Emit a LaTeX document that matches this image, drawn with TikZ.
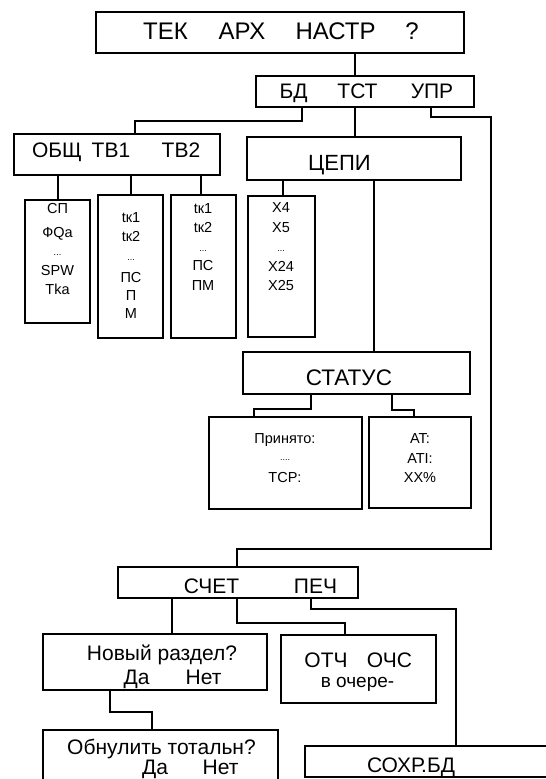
\documentclass[tikz,border=0pt]{standalone}
\usepackage{fontspec}
\setmainfont{Liberation Sans}
\usetikzlibrary{fit}
\newcommand\wbox[2]{\makebox[#1pt][c]{#2}}
\newcommand\mydots{{\fontsize{9}{9}\selectfont...}}
\newcommand\mydotsb{{\fontsize{9}{9}\selectfont....}}
\tikzset{
  box/.style={draw, line width=1.3pt, inner sep=0pt, outer sep=0pt, rectangle},
  wire/.style={line width=1.2pt},
  lbl/.style={anchor=base, inner sep=0pt},
  big/.style={font=\fontsize{21}{25}\selectfont},
  sm/.style={font=\fontsize{14.5}{18}\selectfont},
}
\begin{document}
\begin{tikzpicture}[x=1pt,y=-1pt]
\useasboundingbox (0,0) rectangle (546,779);
\fill[white] (0,0) rectangle (546,779);
\clip (0,0) rectangle (546,779);
% boxes
\node[box, fit={(96,12) (464,53)}] (top) {};
\node[box, fit={(256,76) (474,107)}] (sec) {};
\node[box, fit={(14,134) (220,175)}] (obsh) {};
\node[box, fit={(247,137) (461,180)}] (cepi) {};
\node[box, fit={(25,200) (90,323)}] (sp) {};
\node[box, fit={(98,195) (163,338)}] (tka) {};
\node[box, fit={(171,195) (236,338)}] (tkb) {};
\node[box, fit={(248,196) (315,337)}] (xb) {};
\node[box, fit={(243,352) (470,394)}] (status) {};
\node[box, fit={(209,417) (362,509)}] (prin) {};
\node[box, fit={(369,417) (471,508)}] (atb) {};
\node[box, fit={(118,567) (358,598)}] (schet) {};
\node[box, fit={(43,634) (267,690)}] (novyi) {};
\node[box, fit={(281,635) (436,703)}] (otch) {};
\node[box, fit={(43,730) (278,810)}] (obnul) {};
\node[box, fit={(305,746) (560,777)}] (soxr) {};
% labels
\node[lbl, font=\fontsize{24}{28}\selectfont] (ttop) at (279,39) {\wbox{49}{ТЕК}\hspace{26pt}\wbox{52}{АРХ}\hspace{25pt}\wbox{85}{НАСТР}\hspace{29pt}\wbox{10}{?}};
\node[lbl,big] (tsec) at (366,98) {\wbox{27}{БД}\hspace{31pt}\wbox{39}{ТСТ}\hspace{35pt}\wbox{40}{УПР}};
\node[lbl,big] (tobsh) at (117,157) {\wbox{50}{ОБЩ}\hspace{10pt}\wbox{38}{ТВ1}\hspace{30pt}\wbox{42}{ТВ2}};
\node[lbl, font=\fontsize{22}{26}\selectfont] (tcepi) at (339.5,170) {ЦЕПИ};
\node[lbl, font=\fontsize{22.5}{26}\selectfont] (tstatus) at (349,385) {СТАТУС};
\node[lbl,big] (tschet) at (260.5,593) {\wbox{57}{СЧЕТ}\hspace{53pt}\wbox{45}{ПЕЧ}};
\node[lbl,big] (tnov1) at (162,660) {Новый раздел?};
\node[lbl,big] (tnov2) at (173.5,684) {\wbox{23}{Да}\hspace{37pt}\wbox{37}{Нет}};
\node[lbl,big] (tobn1) at (161.5,754) {Обнулить тотальн?};
\node[lbl,big] (tobn2) at (190.5,774) {\wbox{24}{Да}\hspace{36pt}\wbox{35}{Нет}};
\node[lbl,big] (totch1) at (358.5,667) {\wbox{42}{ОТЧ}\hspace{20pt}\wbox{45}{ОЧС}};
\node[lbl, font=\fontsize{19}{22}\selectfont] (totch2) at (357.5,687) {в очере-};
\node[lbl,big] (tsoxr) at (411,772) {СОХР.БД};
% stacks
\foreach \t/\y [count=\i] in {СП/213, ФQa/237, {\mydots}/255, SPW/275, Tka/294}
  \node[lbl,sm] (spt\i) at (57.5,\y) {\t};
\foreach \t/\y [count=\i] in {tк1/222, tк2/241, {\mydots}/260, ПС/282, П/300, М/318}
  \node[lbl,sm] (tkat\i) at (131,\y) {\t};
\foreach \t/\y [count=\i] in {tк1/213, tк2/232, {\mydots}/251, ПС/270, ПМ/290}
  \node[lbl,sm] (tkbt\i) at (203,\y) {\t};
\foreach \t/\y [count=\i] in {X4/212, X5/232, {\mydots}/251, X24/271, X25/290}
  \node[lbl,sm] (xbt\i) at (281,\y) {\t};
\foreach \t/\y [count=\i] in {Принято:/443, {\mydotsb}/460, TCP:/482}
  \node[lbl,sm] (prt\i) at (285,\y) {\t};
\foreach \t/\y [count=\i] in {AT:/443, ATI:/463, XX\%/482}
  \node[lbl,sm] (att\i) at (420,\y) {\t};
% connectors
\draw[wire] (top.south -| 355,0) -- (sec.north -| 355,0);
\draw[wire] (sec.south -| 302,0) -- (302,121) -| (obsh.north -| 135,0);
\draw[wire] (sec.south -| 355,0) -- (cepi.north -| 355,0);
\coordinate (r1) at (491,117);
\coordinate (r2) at (237,549);
\draw[wire] (sec.south -| 431,0) |- (r1) |- (r2) -- (schet.north -| 237,0);
\draw[wire] (obsh.south -| 58,0) -- (sp.north -| 58,0);
\draw[wire] (obsh.south -| 131,0) -- (tka.north -| 131,0);
\draw[wire] (obsh.south -| 201,0) -- (tkb.north -| 201,0);
\draw[wire] (cepi.south -| 283,0) -- (xb.north -| 283,0);
\draw[wire] (cepi.south -| 374,0) -- (status.north -| 374,0);
\draw[wire] (status.south -| 311,0) -- (311,409) -| (prin.north -| 254,0);
\draw[wire] (status.south -| 392,0) -- (392,410) -| (atb.north -| 414,0);
\draw[wire] (schet.south -| 172,0) -- (novyi.north -| 172,0);
\draw[wire] (schet.south -| 237,0) -- (237,623) -| (otch.north -| 345,0);
\draw[wire] (schet.south -| 311,0) -- (311,609) -| (soxr.north -| 456,0);
\draw[wire] (novyi.south -| 110,0) -- (110,712) -| (obnul.north -| 152,0);
\end{tikzpicture}
\end{document}
